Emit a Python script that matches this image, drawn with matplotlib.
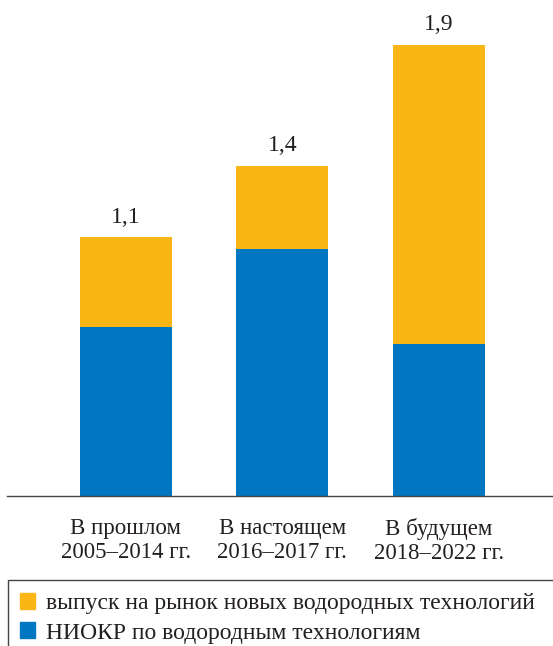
import matplotlib.pyplot as plt
from matplotlib.patches import Patch, Rectangle

plt.rcParams['font.family'] = ['Liberation Serif', 'DejaVu Serif']

# ---- data ----
categories = ['В прошлом\n2005–2014 гг.', 'В настоящем\n2016–2017 гг.', 'В будущем\n2018–2022 гг.']
rnd = [0.71, 1.04, 0.64]        # НИОКР по водородным технологиям
market = [0.38, 0.35, 1.26]     # выпуск на рынок новых водородных технологий
totals = ['1,1', '1,4', '1,9']

ORANGE = '#FBB615'
BLUE = '#0077C0'
W, H = 553, 646

fig = plt.figure(figsize=(W / 100, H / 100), dpi=100)
ax = fig.add_axes([7 / W, 150 / H, 546 / W, 475 / H])

x = range(len(categories))
ax.bar(x, rnd, width=0.588, color=BLUE, zorder=2)
ax.bar(x, market, width=0.588, bottom=rnd, color=ORANGE, zorder=2)

for xi, r, m, t in zip(x, rnd, market, totals):
    ax.text(xi, r + m + 0.04, t, ha='center', va='bottom', fontsize=17, color='#231f20')

ax.set_xlim(-0.76, 2.73)
ax.set_ylim(0, 2.0)
ax.set_xticks(list(x))
ax.set_xticklabels(categories, fontsize=16.5, color='#231f20', linespacing=1.2)
ax.tick_params(axis='x', length=0, pad=16)
ax.set_yticks([])
for s in ['top', 'right', 'left']:
    ax.spines[s].set_visible(False)
ax.spines['bottom'].set_color('#444444')
ax.spines['bottom'].set_linewidth(1.0)

# legend box (open to the right and bottom)
fig.patches.append(Rectangle((8 / W, -0.05), 1.0, (H - 580) / H + 0.05,
                             transform=fig.transFigure, fill=False,
                             edgecolor='#444444', linewidth=1.0))
handles = [Patch(color=ORANGE, label='выпуск на рынок новых водородных технологий'),
           Patch(color=BLUE, label='НИОКР по водородным технологиям')]
fig.legend(handles=handles, loc='upper left', bbox_to_anchor=(20 / W, 1 - 593 / H),
           frameon=False, fontsize=17, handlelength=0.65, handleheight=0.65,
           handletextpad=0.45, labelspacing=0.35, borderaxespad=0, borderpad=0,
           labelcolor='#231f20')

fig.savefig('out.png', dpi=100)
